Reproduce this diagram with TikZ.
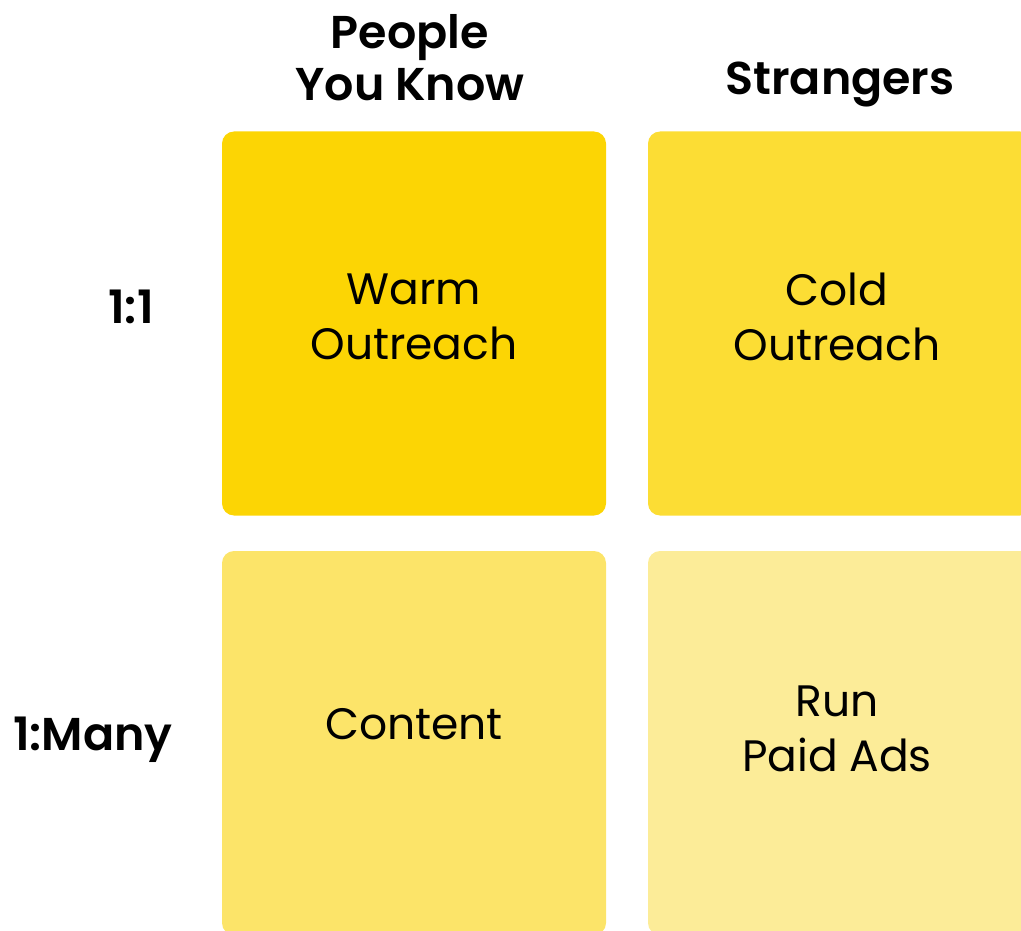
\documentclass[tikz,border=0pt]{standalone}
\usepackage{fontspec}
\setmainfont{Poppins}[BoldFont={Poppins SemiBold}]
\usetikzlibrary{positioning}

\definecolor{cellA}{RGB}{252,213,4}
\definecolor{cellB}{RGB}{252,221,52}
\definecolor{cellC}{RGB}{252,228,105}
\definecolor{cellD}{RGB}{252,236,152}

\tikzset{
  cell/.style={rounded corners=12pt,minimum width=384pt,minimum height=384pt,
    inner sep=0pt},
  label/.style={align=center,font=\fontsize{44}{55}\selectfont},
  head/.style={align=center,font=\fontsize{46}{52}\selectfont\bfseries}
}

\begin{document}
\begin{tikzpicture}[x=1pt,y=-1pt]
\useasboundingbox (0,0) rectangle (1021,931);
% quadrants
\node[cell,fill=cellA] (warm) at (414,323.5) {};
\node[cell,fill=cellB] (cold) at (840,323.5) {};
\node[cell,fill=cellC] (content) at (414,743) {};
\node[cell,fill=cellD] (ads) at (840,743) {};
\node[label] (warmtxt) at (414,317) {Warm\\Outreach};
\node[label] (coldtxt) at (837,317) {Cold\\Outreach};
\node[label] (contenttxt) at (414,724) {Content};
\node[label] (adstxt) at (837,729) {Run\\Paid Ads};
% axis headings
\node[head] (known) at (410,58) {People\\You Know};
\node[head] (strangers) at (840,84) {Strangers};
\node[head] (one) at (131,307) {1:1};
\node[head] (many) at (93,740) {1:Many};
\end{tikzpicture}
\end{document}
